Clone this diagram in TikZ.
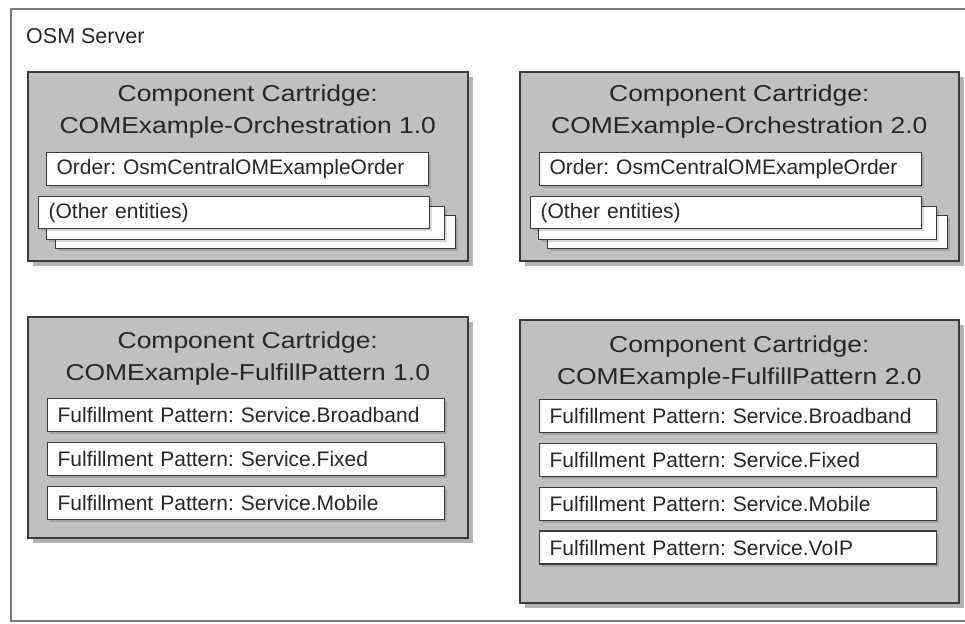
\documentclass[tikz,border=0pt]{standalone}
\usepackage{fontspec}
\setmainfont{Liberation Sans}
\newfontfamily\cartfont{Liberation Sans}[FakeStretch=1.15]
\usetikzlibrary{positioning, shadows}
\frenchspacing

\definecolor{framegray}{HTML}{7A7A7A}
\definecolor{cartfill}{HTML}{C0C0C0}
\definecolor{edge}{HTML}{3A3A3A}

\begin{document}
\begin{tikzpicture}[
  x=1pt, y=-1pt,
  node distance=9.5pt,
  cartridge/.style={draw=edge, fill=cartfill, line width=1.6pt, rectangle,
                    anchor=north west, inner sep=0pt,
                    drop shadow={shadow xshift=5pt, shadow yshift=-5pt,
                                 fill=black, opacity=0.3}},
  ctitle/.style={align=center, inner sep=0pt, text=black!85,
                 font=\cartfont\fontsize{23}{32}\selectfont},
  entity/.style={draw=edge, fill=white, line width=1.3pt, rectangle,
                 text width=#1, align=left, inner xsep=10pt, inner ysep=0pt,
                 minimum height=33pt, text=black!85,
                 font=\fontsize{21}{24}\selectfont,
                 drop shadow={shadow xshift=2.5pt, shadow yshift=-2.5pt,
                              fill=black, opacity=0.15}},
  layer/.style={draw=edge, fill=white, line width=1.3pt, rectangle,
                anchor=north west, minimum width=#1, minimum height=33pt,
                inner sep=0pt,
                drop shadow={shadow xshift=2.5pt, shadow yshift=-2.5pt,
                             fill=black, opacity=0.15}}
]
  \useasboundingbox (0,0) rectangle (965,623);

  % server frame
  \draw[framegray, line width=2.5pt] (965,621) -- (11,621) -- (11,9) -- (965,9);
  \node[anchor=base west, inner sep=0pt, text=black!85,
        font=\fontsize{21.5}{24}\selectfont] (srv) at (26,44) {OSM Server};

  % cartridges
  \node[cartridge, minimum width=440pt, minimum height=189pt] (orch1) at (27,71) {};
  \node[cartridge, minimum width=439pt, minimum height=189pt] (orch2) at (519,71) {};
  \node[cartridge, minimum width=440pt, minimum height=221pt] (ful1) at (27,316) {};
  \node[cartridge, minimum width=439pt, minimum height=283pt] (ful2) at (519,319) {};

  \node[ctitle, below=14pt of orch1.north] (orch1t) {Component Cartridge:\\COMExample-Orchestration 1.0};
  \node[ctitle, below=14pt of orch2.north] (orch2t) {Component Cartridge:\\COMExample-Orchestration 2.0};
  \node[ctitle, below=16pt of ful1.north] (ful1t) {Component Cartridge:\\COMExample-FulfillPattern 1.0};
  \node[ctitle, below=17pt of ful2.north] (ful2t) {Component Cartridge:\\COMExample-FulfillPattern 2.0};

  % orchestration 1.0
  \node[entity=362pt, anchor=north west] (ord1) at (46,152) {Order: OsmCentralOMExampleOrder};
  \node[layer=400pt] (oth1c) at (55,215) {};
  \node[layer=398pt] (oth1b) at (46,206) {};
  \node[entity=371pt, anchor=north west, minimum height=32pt] (oth1) at (38,196) {(Other entities)};

  % orchestration 2.0
  \node[entity=362pt, anchor=north west] (ord2) at (539,152) {Order: OsmCentralOMExampleOrder};
  \node[layer=400pt] (oth2c) at (547,215) {};
  \node[layer=398pt] (oth2b) at (538,206) {};
  \node[entity=371pt, anchor=north west, minimum height=32pt] (oth2) at (530,196) {(Other entities)};

  % fulfillment patterns 1.0
  \node[entity=377pt, anchor=north west] (fp1a) at (47,398) {Fulfillment Pattern: Service.Broadband};
  \node[entity=377pt, below=of fp1a] (fp1b) {Fulfillment Pattern: Service.Fixed};
  \node[entity=377pt, below=of fp1b] (fp1c) {Fulfillment Pattern: Service.Mobile};

  % fulfillment patterns 2.0
  \node[entity=377pt, anchor=north west] (fp2a) at (539,399) {Fulfillment Pattern: Service.Broadband};
  \node[entity=377pt, below=of fp2a] (fp2b) {Fulfillment Pattern: Service.Fixed};
  \node[entity=377pt, below=of fp2b] (fp2c) {Fulfillment Pattern: Service.Mobile};
  \node[entity=377pt, below=of fp2c] (fp2d) {Fulfillment Pattern: Service.VoIP};
\end{tikzpicture}
\end{document}
